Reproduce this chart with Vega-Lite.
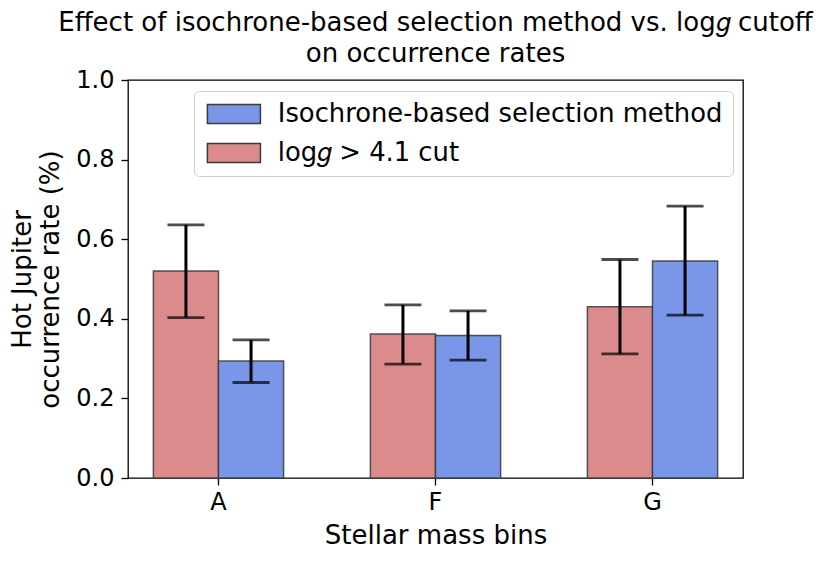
{
  "$schema": "https://vega.github.io/schema/vega-lite/v6.json",
  "autosize": {"type": "none"},
  "width": 615,
  "height": 398,
  "padding": {"left": 128, "top": 80, "right": 87, "bottom": 85},
  "background": "white",
  "config": {
    "font": "DejaVu Sans",
    "view": {"stroke": "black", "strokeWidth": 1.3},
    "axis": {"grid": false, "domain": false, "tickColor": "black", "tickSize": 7, "tickWidth": 1.3,
      "labelColor": "black", "titleColor": "black", "labelFont": "DejaVu Sans", "titleFont": "DejaVu Sans",
      "labelFontSize": 24, "titleFontSize": 26, "titleFontWeight": "normal"}
  },
  "title": {
    "text": ["Effect of isochrone-based selection method vs. log𝑔 cutoff", "on occurrence rates"],
    "fontSize": 26, "fontWeight": "normal", "font": "DejaVu Sans", "color": "black",
    "anchor": "middle", "frame": "group", "offset": 1, "lineHeight": 31
  },
  "data": {"values": [
    {"bin": "A", "method": "log𝑔 > 4.1 cut", "rate": 0.520, "lo": 0.403, "hi": 0.636},
    {"bin": "A", "method": "Isochrone-based selection method", "rate": 0.294, "lo": 0.240, "hi": 0.347},
    {"bin": "F", "method": "log𝑔 > 4.1 cut", "rate": 0.362, "lo": 0.286, "hi": 0.435},
    {"bin": "F", "method": "Isochrone-based selection method", "rate": 0.358, "lo": 0.296, "hi": 0.420},
    {"bin": "G", "method": "log𝑔 > 4.1 cut", "rate": 0.430, "lo": 0.312, "hi": 0.549},
    {"bin": "G", "method": "Isochrone-based selection method", "rate": 0.545, "lo": 0.409, "hi": 0.683}
  ]},
  "encoding": {
    "x": {"field": "bin", "type": "nominal", "scale": {"paddingInner": 0.40, "paddingOuter": 0.117},
      "axis": {"labelAngle": 0, "title": "Stellar mass bins", "labelPadding": 5, "titlePadding": 8}},
    "xOffset": {"field": "method", "type": "nominal",
      "scale": {"domain": ["log𝑔 > 4.1 cut", "Isochrone-based selection method"], "paddingInner": 0, "paddingOuter": 0}}
  },
  "layer": [
    {
      "mark": {"type": "bar", "stroke": "#3a3a3a", "strokeWidth": 1.5, "strokeOpacity": 0.85},
      "encoding": {
        "y": {"field": "rate", "type": "quantitative",
          "scale": {"domain": [0, 1], "nice": false},
          "axis": {"values": [0, 0.2, 0.4, 0.6, 0.8, 1.0], "format": ".1f", "title": ["Hot Jupiter", "occurrence rate (%)"],
            "labelPadding": 7, "titlePadding": 12}},
        "color": {"field": "method", "type": "nominal",
          "scale": {"domain": ["Isochrone-based selection method", "log𝑔 > 4.1 cut"], "range": ["#7A96E9", "#DB8B8B"]},
          "legend": {"title": null, "orient": "none", "legendX": 66, "legendY": 11,
            "labelFontSize": 25.8, "labelFont": "DejaVu Sans", "labelColor": "black", "labelLimit": 700,
            "symbolType": "M-1,-1H4.58V1H-1Z", "symbolSize": 361,
            "symbolStrokeColor": "#3a3a3a", "symbolStrokeWidth": 1.5, "symbolOpacity": 1,
            "rowPadding": 12, "labelOffset": 48, "padding": 10,
            "strokeColor": "#cccccc", "fillColor": "rgba(255,255,255,0.8)", "cornerRadius": 5}}
      }
    },
    {
      "mark": {"type": "rule", "color": "black", "strokeWidth": 3},
      "encoding": {"y": {"field": "lo", "type": "quantitative"}, "y2": {"field": "hi"}}
    },
    {
      "mark": {"type": "tick", "color": "black", "thickness": 2.8, "size": 37, "orient": "horizontal"},
      "encoding": {"y": {"field": "lo", "type": "quantitative"}}
    },
    {
      "mark": {"type": "tick", "color": "black", "thickness": 2.8, "size": 37, "orient": "horizontal"},
      "encoding": {"y": {"field": "hi", "type": "quantitative"}}
    }
  ]
}
